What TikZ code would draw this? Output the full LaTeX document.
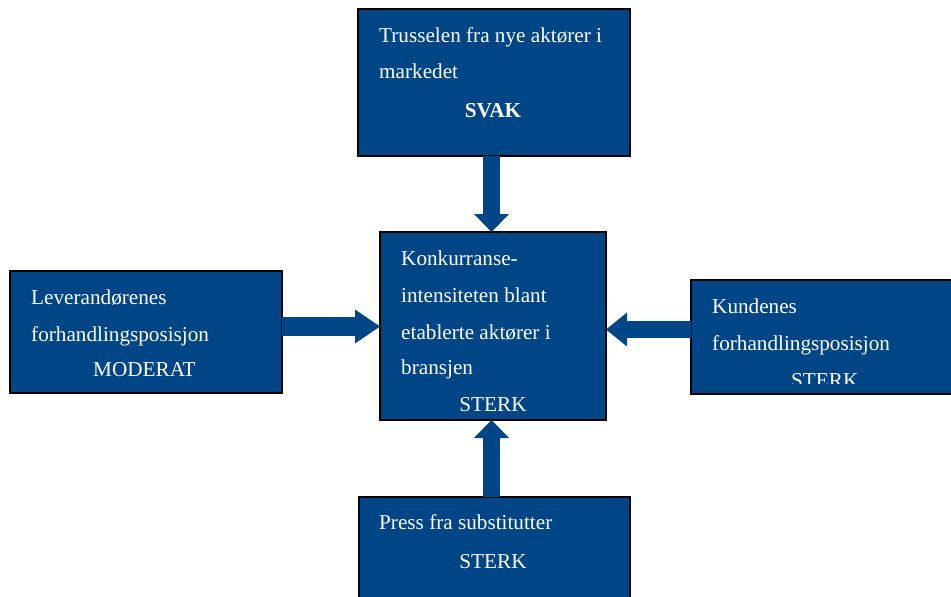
\documentclass[tikz,border=0pt]{standalone}
\usepackage{fontspec}
\setmainfont{Liberation Serif}
\usetikzlibrary{arrows.meta}
\definecolor{boxblue}{RGB}{0,70,135}
\begin{document}
\begin{tikzpicture}[x=1pt,y=-1pt,
  box/.style={draw=black, line width=1.5pt, fill=boxblue, anchor=north west,
              inner sep=0pt, outer sep=0pt},
  lbl/.style={text=white, font=\fontsize{21.2}{24}\selectfont, anchor=base west, inner sep=0pt},
  clbl/.style={lbl, anchor=base},
  flowv/.style={draw=boxblue, line width=17pt,
                -{Triangle[width=35pt,length=18pt,line width=0pt]}},
  flowl/.style={draw=boxblue, line width=19pt,
                -{Triangle[width=34pt,length=25pt,line width=0pt]}},
  flowr/.style={draw=boxblue, line width=17pt,
                -{Triangle[width=34pt,length=21pt,line width=0pt]}}
]
\clip (0,0) rectangle (951,597);

% the five forces
\node[box, minimum width=272pt, minimum height=147pt] (top) at (358,9) {};
\node[box, minimum width=226pt, minimum height=188pt] (center) at (380,232) {};
\node[box, minimum width=272pt, minimum height=122pt] (left) at (10,271) {};
\node[box, minimum width=272pt, minimum height=114pt] (right) at (691,280) {};
\node[box, minimum width=271pt, minimum height=120pt] (bottom) at (359,497) {};

% arrow axes
\coordinate (vx) at (491.5,0);
\coordinate (ly) at (0,326.5);
\coordinate (ry) at (0,329.5);

\draw[flowv] (top.south -| vx) -- (center.north -| vx);
\draw[flowv] (bottom.north -| vx) -- (center.south -| vx);
\draw[flowl] (left.east |- ly) -- (center.west |- ly);
\draw[flowr] (right.west |- ry) -- (center.east |- ry);

% labels: new entrants
\node[lbl] (t1) at (379,42) {Trusselen fra nye aktører i};
\node[lbl] (t2) at (379,78) {markedet};
\node[clbl, font=\fontsize{21.2}{24}\selectfont\bfseries] (t3) at (493,117) {SVAK};

% labels: rivalry
\node[lbl] (c1) at (401,265) {Konkurranse-};
\node[lbl] (c2) at (401,302) {intensiteten blant};
\node[lbl] (c3) at (401,339) {etablerte aktører i};
\node[lbl] (c4) at (401,374) {bransjen};
\node[clbl] (c5) at (493,411) {STERK};

% labels: suppliers
\node[lbl] (l1) at (31,304) {Leverandørenes};
\node[lbl] (l2) at (31,341) {forhandlingsposisjon};
\node[lbl] (l3) at (93,376) {MODERAT};

% labels: buyers (last line cut by its frame)
\node[lbl] (r1) at (712,313) {Kundenes};
\node[lbl] (r2) at (712,350) {forhandlingsposisjon};
\begin{scope}
  \clip (691,280) rectangle (960,383);
  \node[lbl] (r3) at (791,387) {STERK};
\end{scope}

% labels: substitutes
\node[lbl] (b1) at (379,529) {Press fra substitutter};
\node[clbl] (b2) at (493,568) {STERK};
\end{tikzpicture}
\end{document}
